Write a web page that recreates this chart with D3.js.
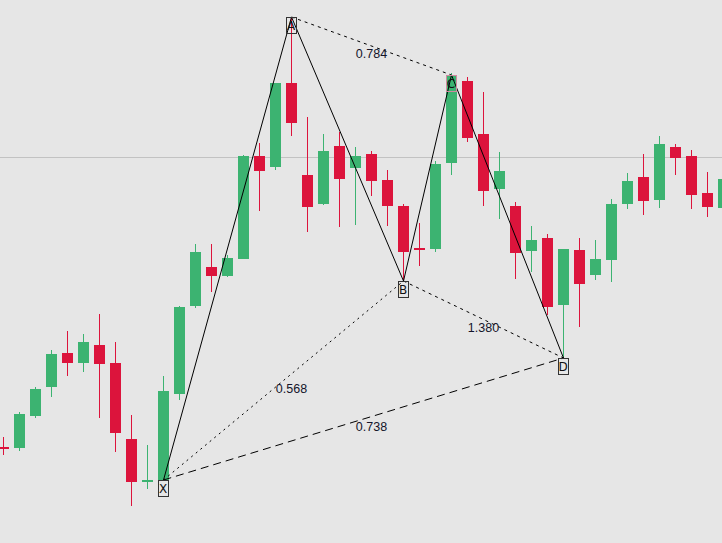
<!DOCTYPE html>
<html>
<head>
<meta charset="utf-8">
<script src="https://cdn.jsdelivr.net/npm/d3@7"></script>
<style>
  body { margin: 0; background: #e6e6e6; }
  svg { display: block; }
  .ratio { font-family: "Liberation Sans", Arial, sans-serif; font-size: 12.5px; fill: #14142a; }
  .pt-label { font-family: "DejaVu Sans", sans-serif; font-size: 12px; fill: #111; }
</style>
</head>
<body>
<div id="chart"></div>
<script>

// Candles (open, high, low, close), one bar per index
var opens  = [96, 95, 127, 156, 190, 180, 198, 180, 104, 61, 63, 149, 237, 276, 267, 284, 387, 376, 460, 368,
              339, 397, 375, 389, 363, 337, 295, 294, 380, 462, 409, 354, 337, 292, 305, 238, 293, 268, 283, 339,
              366, 343, 396, 387, 350, 335];
var highs  = [106, 131, 156, 193, 212, 209, 229, 201, 128, 98, 167, 237, 299, 299, 288, 388, 400, 460, 526, 426,
              409, 411, 396, 392, 373, 339, 320, 382, 470, 466, 451, 391, 341, 317, 309, 294, 305, 303, 344, 370,
              389, 407, 399, 393, 371, 368];
var lows   = [88, 92, 125, 146, 167, 171, 125, 91, 37, 54, 62, 143, 235, 251, 266, 284, 332, 373, 407, 311,
              338, 316, 318, 347, 317, 262, 277, 291, 368, 401, 337, 324, 264, 271, 228, 185, 216, 263, 261, 334,
              328, 335, 368, 334, 326, 330];
var closes = [94, 129, 154, 189, 180, 201, 179, 110, 61, 63, 152, 236, 291, 267, 285, 387, 372, 460, 420, 336,
              392, 364, 387, 362, 337, 291, 293, 379, 468, 405, 352, 372, 290, 303, 236, 294, 259, 284, 339, 362,
              342, 399, 385, 348, 336, 364];

// Harmonic pattern pivots
var pointNames  = ["X", "A", "B", "C", "D"];
var pointIndex  = [10, 18, 25, 28, 35];
var pointValues = [63, 526, 262, 468, 185];

// Ratio lines between pivots
var ratioFrom   = ["X", "A", "B", "X"];
var ratioTo     = ["B", "C", "D", "D"];
var ratioLabels = ["0.568", "0.784", "1.380", "0.738"];

var levelValue = 386;

var width = 722, height = 543;

var svg = d3.select("#chart").append("svg")
  .attr("width", width)
  .attr("height", height);

svg.append("rect")
  .attr("width", width)
  .attr("height", height)
  .attr("fill", "#e6e6e6");

// Scales
var x = d3.scaleLinear()
  .domain([0, 45])
  .range([3.5, 723.5]);

var y = d3.scaleLinear()
  .domain([0, 543])
  .range([543, 0]);

var candles = opens.map(function(o, i) {
  return {i: i, o: o, h: highs[i], l: lows[i], c: closes[i]};
});

var green = "#3cb371", red = "#dc143c";

// Horizontal level
svg.append("line")
  .attr("x1", 0)
  .attr("x2", width)
  .attr("y1", y(levelValue) + 0.5)
  .attr("y2", y(levelValue) + 0.5)
  .attr("stroke", "#c2c2c2")
  .attr("stroke-width", 1);

// Wicks
svg.selectAll(".wick")
  .data(candles)
  .enter().append("rect")
  .attr("class", "wick")
  .attr("x", function(d) { return x(d.i) - 0.5; })
  .attr("y", function(d) { return y(d.h); })
  .attr("width", 1)
  .attr("height", function(d) { return y(d.l) - y(d.h); })
  .attr("fill", function(d) { return d.c >= d.o ? green : red; });

// Bodies
svg.selectAll(".body")
  .data(candles)
  .enter().append("rect")
  .attr("class", "body")
  .attr("x", function(d) { return x(d.i) - 5.5; })
  .attr("y", function(d) { return y(Math.max(d.o, d.c)); })
  .attr("width", 11)
  .attr("height", function(d) { return Math.max(2, Math.abs(y(d.o) - y(d.c))); })
  .attr("fill", function(d) { return d.c >= d.o ? green : red; });

// Pattern pivots
var pts = {};
pointNames.forEach(function(n, k) {
  pts[n] = {x: x(pointIndex[k]), y: y(pointValues[k])};
});

// Solid legs X-A-B-C-D
var leg = d3.line()
  .x(function(n) { return pts[n].x; })
  .y(function(n) { return pts[n].y; });

svg.append("path")
  .attr("d", leg(pointNames))
  .attr("fill", "none")
  .attr("stroke", "#000")
  .attr("stroke-width", 1);

// Ratio lines
var dashes = ["2,4", "3,4", "3,4", "8,5"];
var labelDx = {X: 8};

ratioFrom.forEach(function(f, k) {
  var a = pts[f], b = pts[ratioTo[k]];
  svg.append("line")
    .attr("x1", a.x).attr("y1", a.y)
    .attr("x2", b.x).attr("y2", b.y)
    .attr("stroke", "#000")
    .attr("stroke-width", 1)
    .attr("stroke-dasharray", dashes[k]);

  svg.append("text")
    .attr("class", "ratio")
    .attr("x", (a.x + b.x) / 2 + (labelDx[f] || 0))
    .attr("y", (a.y + b.y) / 2 + 12)
    .attr("text-anchor", "middle")
    .text(ratioLabels[k]);
});

// Pivot boxes with letters
pointNames.forEach(function(n) {
  var p = pts[n];
  svg.append("rect")
    .attr("x", Math.round(p.x) - 5.5)
    .attr("y", Math.round(p.y) + 0.5)
    .attr("width", 10)
    .attr("height", 16)
    .attr("fill", "none")
    .attr("stroke", n == "C" ? "#d08aa0" : "#333")
    .attr("stroke-width", 1);

  svg.append("text")
    .attr("class", "pt-label")
    .attr("x", p.x - 0.5)
    .attr("y", p.y + 13)
    .attr("text-anchor", "middle")
    .text(n);
});

</script>
</body>
</html>
